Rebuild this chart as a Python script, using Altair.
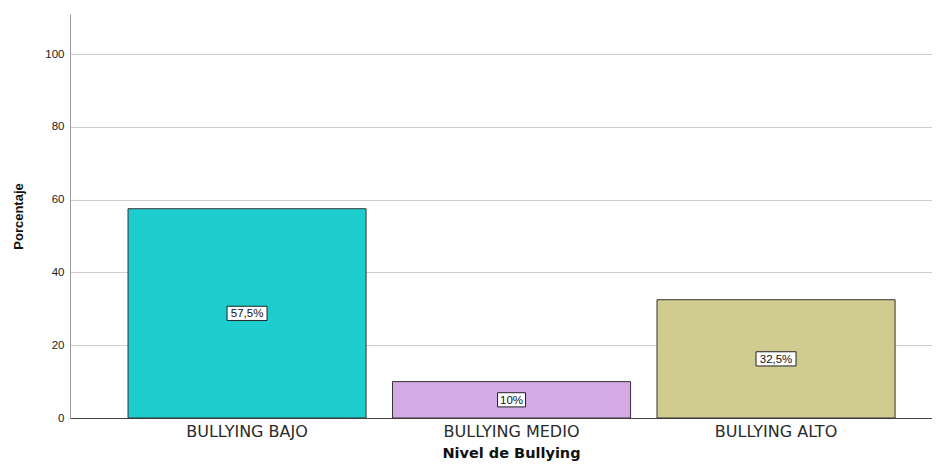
import altair as alt
import pandas as pd

categories = ["BULLYING BAJO", "BULLYING MEDIO", "BULLYING ALTO"]
values = [57.5, 10.0, 32.5]
labels = ["57,5%", "10%", "32,5%"]
colors = ["#1ecdcd", "#d3a9e6", "#d0cb8f"]

df = pd.DataFrame({"cat": categories, "val": values, "lab": labels})

FONT = "Liberation Sans"
WIDE = "DejaVu Sans"

x = alt.X("cat:N", sort=categories,
          scale=alt.Scale(paddingInner=0.1, paddingOuter=0.1795, align=0.611),
          axis=alt.Axis(title="Nivel de Bullying", labelAngle=0, labelFont=WIDE,
                        labelFontSize=16, labelColor="#2a2a2a", titleFont=WIDE,
                        titleFontSize=14.5, titleFontWeight="bold", titleColor="#111",
                        titlePadding=7, ticks=False, labelPadding=5,
                        titleX=441, titleAlign="center",
                        domainColor="#444", domainWidth=1))
y = alt.Y("val:Q", scale=alt.Scale(domain=[0, 111], nice=False),
          axis=alt.Axis(title="Porcentaje", values=[0, 20, 40, 60, 80, 100],
                        labelFont=FONT, labelFontSize=11.5, labelColor="#222",
                        titleFont=FONT, titleFontSize=13,
                        titleFontWeight="bold", titleColor="#111", titlePadding=19,
                        ticks=False, labelPadding=6, domainColor="#999",
                        gridColor="#cfcfcf", gridWidth=1))

bars = alt.Chart(df).mark_bar(stroke="#333", strokeWidth=1).encode(
    x=x, y=y,
    color=alt.Color("cat:N", sort=categories,
                    scale=alt.Scale(domain=categories, range=colors), legend=None),
)

layers = [bars]
for c, l in zip(categories, labels):
    w = 6 * len(l) + 10
    box = alt.Chart(df[df["cat"] == c]).transform_calculate(
        y1="datum.val/2 - 1.95", y2="datum.val/2 + 1.95"
    ).mark_bar(width=w, fill="white", stroke="#222", strokeWidth=1).encode(
        x=alt.X("cat:N", sort=categories), y=alt.Y("y1:Q"), y2="y2:Q")
    layers.append(box)

text = alt.Chart(df).transform_calculate(mid="datum.val/2").mark_text(
    font=FONT, fontSize=11.5, color="#111", baseline="middle", dy=1
).encode(x=alt.X("cat:N", sort=categories), y=alt.Y("mid:Q"), text="lab:N")
layers.append(text)

chart = alt.layer(*layers).properties(
    width=862, height=404,
    autosize=alt.AutoSizeParams(type="none"),
    padding={"left": 62, "top": 6, "right": 0, "bottom": 46},
).configure_view(stroke=None).configure_axisY(grid=True).configure_axisX(grid=False)

chart.save("out.html", embed_options={"renderer": "svg", "actions": False})
